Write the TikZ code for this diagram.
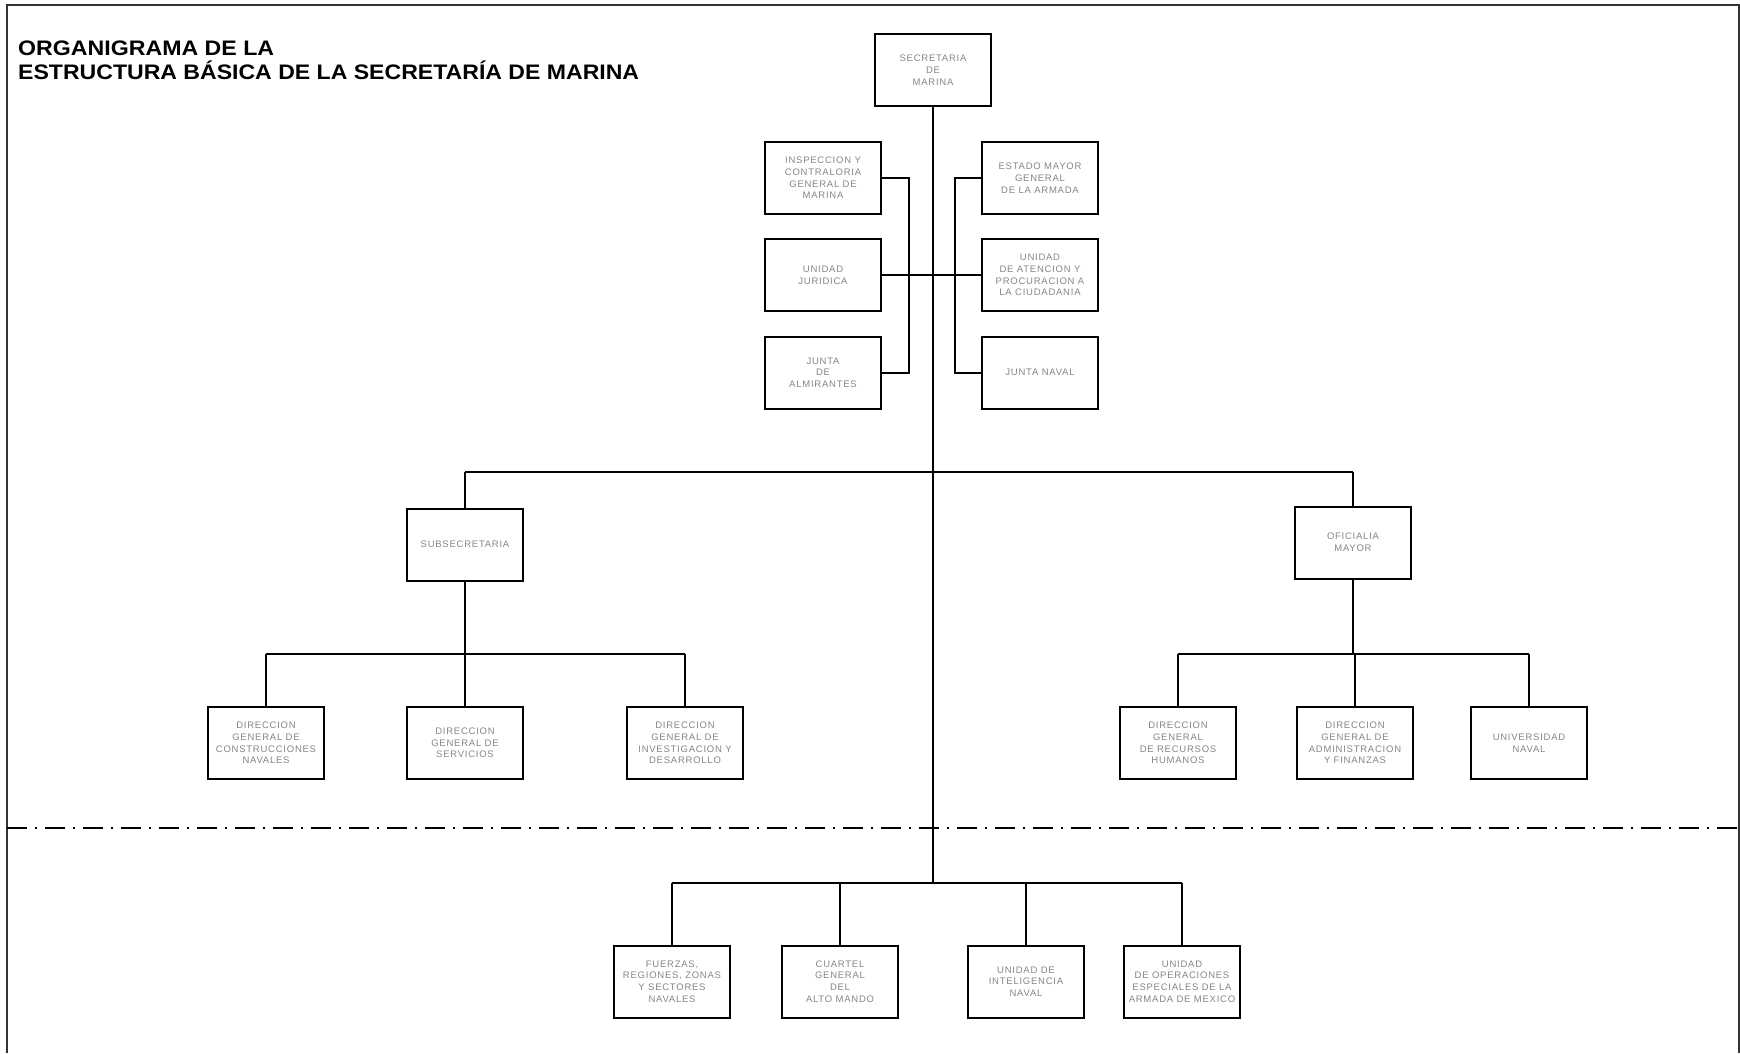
\documentclass[tikz,border=0pt]{standalone}
\usepackage{fontspec}
\setmainfont{Liberation Sans}
\newfontfamily\boxfamily[LetterSpace=8]{Liberation Sans}
\newfontfamily\titlefamily{Liberation Sans}
\begin{document}
\begin{tikzpicture}[x=1pt,y=-1pt,
  orgbox/.style={draw, line width=2pt, minimum width=116pt, minimum height=72pt,
    inner sep=0pt, align=center, text=black!48,
    font=\boxfamily\fontsize{9.5}{11.7}\selectfont},
  conn/.style={line width=2pt},
  framestyle/.style={line width=2pt, black!80},
  titlestyle/.style={anchor=base west, inner sep=0pt, font=\titlefamily\bfseries\fontsize{21}{21}\selectfont}]
\useasboundingbox (0,0) rectangle (1740,1053);
% frame
\draw[framestyle] (7,1053) -- (7,5) -- (1739,5) -- (1739,1053);
% title
\node[titlestyle] (t1) at (18,55.5) {\resizebox{256pt}{\height}{ORGANIGRAMA DE LA}};
\node[titlestyle] (t2) at (18,79.5) {\resizebox{621pt}{\height}{ESTRUCTURA BÁSICA DE LA SECRETARÍA DE MARINA}};
% boxes
\node[orgbox] (sec) at (933,70) {SECRETARIA\\DE\\MARINA};
\node[orgbox] (insp) at (823,178) {INSPECCION Y\\CONTRALORIA\\GENERAL DE\\MARINA};
\node[orgbox] (jur) at (823,275) {UNIDAD\\JURIDICA};
\node[orgbox] (alm) at (823,372.5) {JUNTA\\DE\\ALMIRANTES};
\node[orgbox] (emg) at (1040,178) {ESTADO MAYOR\\GENERAL\\DE LA ARMADA};
\node[orgbox] (uac) at (1040,275) {UNIDAD\\DE ATENCION Y\\PROCURACION A\\LA CIUDADANIA};
\node[orgbox] (jn) at (1040,372.5) {JUNTA NAVAL};
\node[orgbox] (sub) at (465,544.5) {SUBSECRETARIA};
\node[orgbox] (ofi) at (1353,542.5) {OFICIALIA\\MAYOR};
\node[orgbox] (dgcn) at (266,743) {DIRECCION\\GENERAL DE\\CONSTRUCCIONES\\NAVALES};
\node[orgbox] (dgs) at (465,743) {DIRECCION\\GENERAL DE\\SERVICIOS};
\node[orgbox] (dgid) at (685,743) {DIRECCION\\GENERAL DE\\INVESTIGACION Y\\DESARROLLO};
\node[orgbox] (dgrh) at (1178,743) {DIRECCION\\GENERAL\\DE RECURSOS\\HUMANOS};
\node[orgbox] (dgaf) at (1355,743) {DIRECCION\\GENERAL DE\\ADMINISTRACION\\Y FINANZAS};
\node[orgbox] (un) at (1529,743) {UNIVERSIDAD\\NAVAL};
\node[orgbox] (frz) at (672,981.5) {FUERZAS,\\REGIONES, ZONAS\\Y SECTORES\\NAVALES};
\node[orgbox] (cgam) at (840,981.5) {CUARTEL\\GENERAL\\DEL\\ALTO MANDO};
\node[orgbox] (uin) at (1026,981.5) {UNIDAD DE\\INTELIGENCIA\\NAVAL};
\node[orgbox] (uoe) at (1182,981.5) {UNIDAD\\DE OPERACIONES\\ESPECIALES DE LA\\ARMADA DE MEXICO};
% bus coordinates
\coordinate (lb) at (909,275);
\coordinate (rb) at (955,275);
\coordinate (b1) at (0,472);
\coordinate (b2) at (0,654);
\coordinate (b3) at (0,883);
% connectors: top section
\draw[conn] (sec.south) -- (sec.south |- b3);
\draw[conn] (jur.east) -- (uac.west);
\draw[conn] (insp.east) -| (lb) -- (lb |- alm.east) -- (alm.east);
\draw[conn] (emg.west) -| (rb) -- (rb |- jn.west) -- (jn.west);
% level 1
\draw[conn] (sub.north |- b1) -- (ofi.north |- b1);
\draw[conn] (sub.north |- b1) -- (sub.north);
\draw[conn] (ofi.north |- b1) -- (ofi.north);
% subsecretaria branch
\draw[conn] (sub.south) -- (sub.south |- b2);
\draw[conn] (dgcn.north |- b2) -- (dgid.north |- b2);
\draw[conn] (dgcn.north |- b2) -- (dgcn.north);
\draw[conn] (dgs.north |- b2) -- (dgs.north);
\draw[conn] (dgid.north |- b2) -- (dgid.north);
% oficialia branch
\draw[conn] (ofi.south) -- (ofi.south |- b2);
\draw[conn] (dgrh.north |- b2) -- (un.north |- b2);
\draw[conn] (dgrh.north |- b2) -- (dgrh.north);
\draw[conn] (dgaf.north |- b2) -- (dgaf.north);
\draw[conn] (un.north |- b2) -- (un.north);
% bottom branch
\draw[conn] (frz.north |- b3) -- (uoe.north |- b3);
\draw[conn] (frz.north |- b3) -- (frz.north);
\draw[conn] (cgam.north |- b3) -- (cgam.north);
\draw[conn] (uin.north |- b3) -- (uin.north);
\draw[conn] (uoe.north |- b3) -- (uoe.north);
% dash-dot separator
\coordinate (dl) at (7,828);
\coordinate (dr) at (1739,828);
\draw[line width=2.6pt, dash pattern=on 20pt off 8pt on 2pt off 8pt] (dl) -- (dr);
\end{tikzpicture}
\end{document}
